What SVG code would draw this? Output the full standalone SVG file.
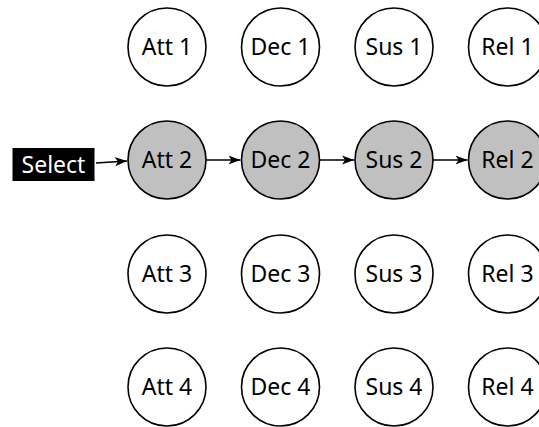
<svg xmlns="http://www.w3.org/2000/svg" width="539" height="427" viewBox="0 0 539 427">
<style>
.n{fill:#fff;stroke:#000;stroke-width:1.6}
.a{fill:#c0c0c0;stroke:#000;stroke-width:1.6}
text{font-family:"Noto Sans","Open Sans",sans-serif;font-size:23px;text-anchor:middle;dominant-baseline:central;fill:#000}
.c{stroke:#000;stroke-width:1.6;fill:none;marker-end:url(#ah)}
</style>
<defs>
<marker id="ah" viewBox="0 0 12 10" refX="12" refY="5" markerWidth="12" markerHeight="10" markerUnits="userSpaceOnUse" orient="auto">
<path d="M0,0.5 L12,5 L0,9.5 L3,5 Z" fill="#000"/>
</marker>
</defs>
<rect width="539" height="427" fill="#fff"/>
<g id="select"><rect x="12.5" y="148" width="82" height="33" fill="#000"/><text x="53.5" y="164" style="fill:#fff">Select</text></g>
<g id="att1"><circle class="n" cx="167" cy="47" r="39"/><text x="167" y="46">Att 1</text></g>
<g id="dec1"><circle class="n" cx="280.5" cy="47" r="39"/><text x="280.5" y="46">Dec 1</text></g>
<g id="sus1"><circle class="n" cx="394" cy="47" r="39"/><text x="394" y="46">Sus 1</text></g>
<g id="rel1"><circle class="n" cx="507.5" cy="47" r="39"/><text x="507.5" y="46">Rel 1</text></g>
<g id="att2"><circle class="a" cx="167" cy="160" r="39"/><text x="167" y="159">Att 2</text></g>
<g id="dec2"><circle class="a" cx="280.5" cy="160" r="39"/><text x="280.5" y="159">Dec 2</text></g>
<g id="sus2"><circle class="a" cx="394" cy="160" r="39"/><text x="394" y="159">Sus 2</text></g>
<g id="rel2"><circle class="a" cx="507.5" cy="160" r="39"/><text x="507.5" y="159">Rel 2</text></g>
<g id="att3"><circle class="n" cx="167" cy="274" r="39"/><text x="167" y="273">Att 3</text></g>
<g id="dec3"><circle class="n" cx="280.5" cy="274" r="39"/><text x="280.5" y="273">Dec 3</text></g>
<g id="sus3"><circle class="n" cx="394" cy="274" r="39"/><text x="394" y="273">Sus 3</text></g>
<g id="rel3"><circle class="n" cx="507.5" cy="274" r="39"/><text x="507.5" y="273">Rel 3</text></g>
<g id="att4"><circle class="n" cx="167" cy="387" r="39"/><text x="167" y="386">Att 4</text></g>
<g id="dec4"><circle class="n" cx="280.5" cy="387" r="39"/><text x="280.5" y="386">Dec 4</text></g>
<g id="sus4"><circle class="n" cx="394" cy="387" r="39"/><text x="394" y="386">Sus 4</text></g>
<g id="rel4"><circle class="n" cx="507.5" cy="387" r="39"/><text x="507.5" y="386">Rel 4</text></g>
<g id="connectors">
<line class="c" x1="96" y1="163" x2="127" y2="161"/>
<line class="c" x1="206" y1="160" x2="240.5" y2="160"/>
<line class="c" x1="319.5" y1="160" x2="354" y2="160"/>
<line class="c" x1="433" y1="160" x2="467.5" y2="160"/>
</g>
</svg>
